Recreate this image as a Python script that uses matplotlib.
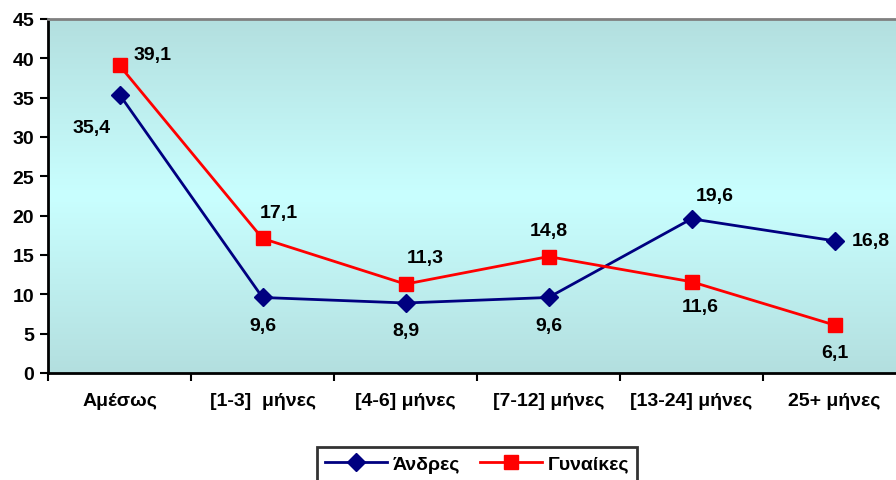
import numpy as np
import matplotlib
matplotlib.use("Agg")
import matplotlib.pyplot as plt
from matplotlib.colors import LinearSegmentedColormap

categories = ["Αμέσως", "[1-3]  μήνες", "[4-6] μήνες", "[7-12] μήνες", "[13-24] μήνες", "25+ μήνες"]
men = [35.4, 9.6, 8.9, 9.6, 19.6, 16.8]
women = [39.1, 17.1, 11.3, 14.8, 11.6, 6.1]
men_label = "Άνδρες"
women_label = "Γυναίκες"
yticks = [0, 5, 10, 15, 20, 25, 30, 35, 40, 45]

def fmt(v):
    return f"{v:.1f}".replace(".", ",")

plt.rcParams['font.family'] = ['Liberation Sans', 'DejaVu Sans']
plt.rcParams['font.weight'] = 'bold'
FS = 14

fig = plt.figure(figsize=(8.96, 4.81), dpi=100)
ax = fig.add_axes([48/896, 1-374/481, (906-48)/896, (374-20)/481])

x = np.arange(len(categories))
ax.set_xlim(-0.5, len(categories) - 0.5)
ax.set_ylim(0, 45)

# gradient background
cmap = LinearSegmentedColormap.from_list("bg", ["#B3DFDF", "#C9FFFF", "#B3DFDF"])
grad = np.linspace(0, 1, 256).reshape(-1, 1)
ax.imshow(grad, cmap=cmap, aspect='auto', extent=(-0.5, len(categories) - 0.5, 0, 45),
          origin='lower', zorder=0)

ax.plot(x, men, color="#000080", lw=2, marker="D", ms=9.5, mfc="#000080", mec="#000080",
        label=men_label, zorder=3)
ax.plot(x, women, color="#FF0000", lw=2, marker="s", ms=10.5, mfc="#FF0000", mec="#FF0000",
        label=women_label, zorder=3)

men_off = [(-20, -24), (0, -20), (0, -20), (0, -20), (17, 17), (26, 0)]
women_off = [(24, 8), (12, 19), (14, 19), (0, 19), (6, -18), (0, -20)]
for xi, v, o in zip(x, men, men_off):
    ax.annotate(fmt(v), (xi, v), xytext=o, textcoords='offset points', ha='center', va='center',
                fontsize=FS, fontweight='bold', color='black', zorder=4)
for xi, v, o in zip(x, women, women_off):
    ax.annotate(fmt(v), (xi, v), xytext=o, textcoords='offset points', ha='center', va='center',
                fontsize=FS, fontweight='bold', color='black', zorder=4)

ax.set_yticks(yticks)
ax.set_yticklabels([str(t) for t in yticks], fontsize=FS, fontweight='bold')
ax.set_xticks(x)
ax.set_xticklabels(categories, fontsize=FS, fontweight='bold')
ax.set_xticks(np.arange(-0.5, len(categories) + 0.5, 1), minor=True)
ax.tick_params(axis='x', which='major', length=0, pad=14)
ax.tick_params(axis='x', which='minor', length=6, width=1.5, direction='out')
ax.tick_params(axis='y', length=6, width=1.5, direction='out', pad=4)

ax.spines['left'].set_linewidth(2)
ax.spines['bottom'].set_linewidth(2)
ax.spines['top'].set_color('#808080')
ax.spines['top'].set_linewidth(2)
ax.spines['right'].set_visible(False)

leg = fig.legend(loc='center', bbox_to_anchor=(477/896, 1-465/481), ncol=2, frameon=True,
                 fancybox=False, edgecolor='black', fontsize=FS, handlelength=3.2,
                 columnspacing=1.0, handletextpad=0.3, borderpad=0.4)
leg.get_frame().set_linewidth(2)

fig.savefig("out.png", dpi=100)
